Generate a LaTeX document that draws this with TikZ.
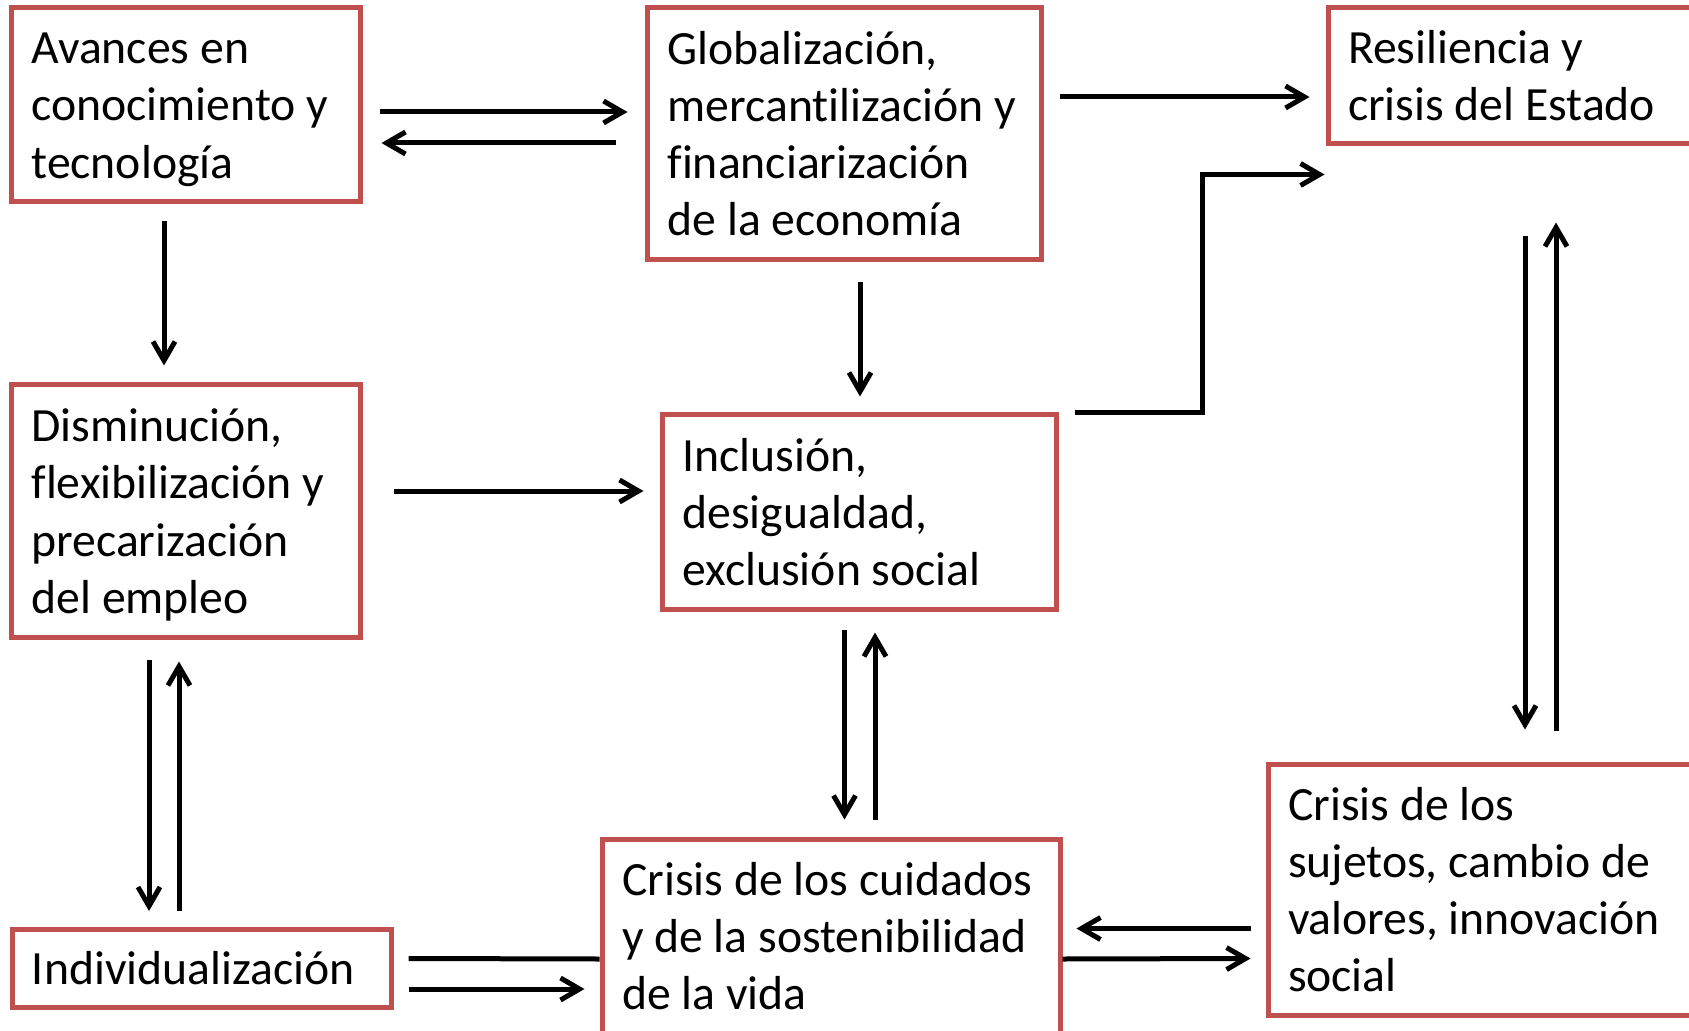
\documentclass[tikz,border=0pt]{standalone}
\usepackage{fontspec}
\setmainfont{Carlito}[Ligatures=NoCommon]
\usetikzlibrary{arrows.meta}
\definecolor{boxred}{RGB}{192,80,77}
\newcommand\boxfont{\fontsize{23.85pt}{28.55pt}\selectfont}
\newcommand\linestrut{\rule[-6.05pt]{0pt}{28.55pt}}
\tikzset{
  box/.style={draw=boxred, line width=2.5pt, align=flush left, inner xsep=10pt, inner ysep=0pt,
    font=\boxfont, anchor=center,
    execute at begin node={\hyphenpenalty=10000\exhyphenpenalty=10000\linestrut},
    execute at end node={\linestrut}},
  arr/.style={line width=2.5pt, -{Straight Barb[length=9.5pt,width=11pt]}},
  ln/.style={line width=2.5pt},
}
\begin{document}
\begin{tikzpicture}[x=0.5pt,y=-0.5pt]
\useasboundingbox (0,0) rectangle (1689,1031);
\clip (0,0) rectangle (1689,1031);
\node[box, minimum width=174.5pt, minimum height=97pt, text width=154.5pt] (A) at (186,104.5) {Avances en\\conocimiento~y\\tecnología};
\node[box, minimum width=197pt, minimum height=126pt, text width=177pt] (G) at (844.5,133.5) {Globalización,\\mercantilización~y\\financiarización\\de~la~economía};
\node[box, minimum width=210pt, minimum height=68pt, text width=190pt] (R) at (1538,75.5) {Resiliencia~y\\crisis~del~Estado};
\node[box, minimum width=174.5pt, minimum height=126.5pt, text width=154.5pt] (D) at (186,511) {Disminución,\\flexibilización~y\\precarización\\del~empleo};
\node[box, minimum width=197pt, minimum height=97.5pt, text width=177pt] (I) at (859.5,512) {Inclusión,\\desigualdad,\\exclusión~social};
\node[box, minimum width=189.5pt, minimum height=39pt, text width=169.5pt] (Ind) at (201.5,968.5) {Individualización};
\node[box, minimum width=229pt, minimum height=97pt, text width=209pt] (C) at (831,936) {Crisis~de~los~cuidados\\y~de~la~sostenibilidad\\de~la~vida};
\node[box, minimum width=220pt, minimum height=125.5pt, text width=200pt] (S) at (1488,889.5) {Crisis~de~los\\sujetos,~cambio~de\\valores,~innovación\\social};
% connectors
\draw[arr] ([shift={(16.5,7.5)}]A.east) -- ([shift={(-17.5,-21.5)}]G.west);
\draw[arr] ([shift={(-29.5,9.5)}]G.west) -- ([shift={(18.5,38.5)}]A.east);
\draw[arr] ([shift={(15.5,-36.5)}]G.east) -- ([shift={(-16,21.5)}]R.west);
\draw[arr] ([shift={(-22,17.5)}]A.south) -- ([shift={(-22,-16.5)}]D.north);
\draw[arr] ([shift={(15.5,20.5)}]G.south) -- ([shift={(0.5,-15.5)}]I.north);
\draw[arr] ([shift={(30.5,-20)}]D.east) -- ([shift={(-16.5,-21)}]I.west);
\draw[arr] ([shift={(15.5,0.5)}]I.north east) -- ++(127.5,0) |- ([shift={(-1,28.5)}]R.south west);
\draw[arr] ([shift={(-13,90.5)}]R.south) -- ([shift={(37,-32)}]S.north);
\draw[arr] ([shift={(68,-31)}]S.north) -- ([shift={(18,76.5)}]R.south);
\draw[arr] ([shift={(-37,19.5)}]D.south) -- ([shift={(-52.5,-16)}]Ind.north);
\draw[arr] ([shift={(-22.5,-16)}]Ind.north) -- ([shift={(-7,21.5)}]D.south);
\draw[arr] ([shift={(-15,17.5)}]I.south) -- ([shift={(13.5,-17)}]C.north);
\draw[arr] ([shift={(44,-17)}]C.north) -- ([shift={(15.5,20.5)}]I.south);
\draw[ln] ([shift={(15,-10)}]Ind.east) -- ([shift={(0,23)}]C.west);
\draw[arr] ([shift={(15,20.5)}]Ind.east) -- ([shift={(-15,53)}]C.west);
\draw[arr] ([shift={(-15,39)}]S.west) -- ([shift={(14,-7.5)}]C.east);
\draw[arr] ([shift={(0,23)}]C.east) -- ([shift={(-15,69)}]S.west);
\end{tikzpicture}
\end{document}
